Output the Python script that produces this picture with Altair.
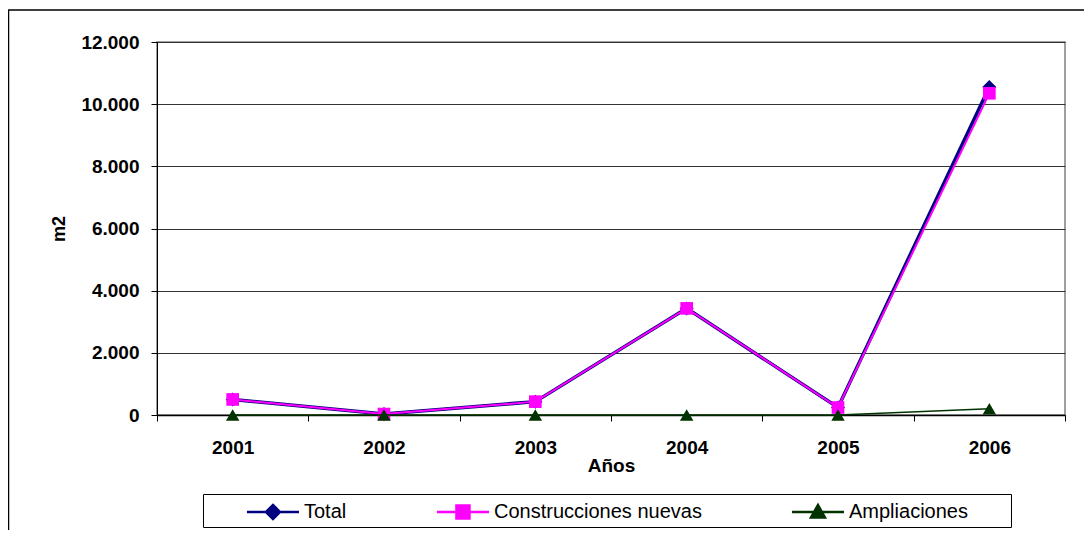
import altair as alt
import pandas as pd

# ---- data ----
anios = ["2001", "2002", "2003", "2004", "2005", "2006"]
total = [500, 30, 430, 3430, 240, 10550]
construcciones = [500, 30, 430, 3430, 240, 10350]
ampliaciones = [0, 0, 0, 0, 0, 200]
series = ["Total", "Construcciones nuevas", "Ampliaciones"]
colores = ["#000080", "#FF00FF", "#003300"]
marcadores = ["diamond", "square", "triangle-up"]
tamanos = [196, 160, 180]
grosores = [3.5, 2.0, 1.5]
y_ticks = [0, 2000, 4000, 6000, 8000, 10000, 12000]

valores = {"Total": total, "Construcciones nuevas": construcciones, "Ampliaciones": ampliaciones}
rows = []
for s in series:
    for a, v in zip(anios, valores[s]):
        rows.append({"anio": a, "valor": v, "serie": s})
df = pd.DataFrame(rows)

FONT = "Liberation Sans"

# legend symbols: line segment + marker (unit = sqrt(size)/2 px)
leg_paths = [
    "M0,0H7.43M3.71,-1L4.71,0L3.71,1L2.71,0Z",
    "M0,0H7.43M2.78,-0.93H4.64V0.93H2.78Z",
    "M0,0H7.43M3.71,-1L4.71,0.8L2.71,0.8Z",
]

x_enc = alt.X(
    "anio:O", sort=anios, title="Años",
    scale=alt.Scale(type="band", paddingInner=0, paddingOuter=0),
    bandPosition=0.5,
    axis=alt.Axis(
        labelAngle=0, labelFont=FONT, labelFontSize=19, labelFontWeight="bold",
        labelColor="black", labelPadding=17, tickBand="extent", tickSize=6,
        tickColor="black", domainColor="black", domainWidth=1.5, grid=False,
        titleFont=FONT, titleFontSize=19, titleFontWeight="bold", titleColor="black",
        titlePadding=-1,
    ),
)
y_enc = alt.Y(
    "valor:Q", title="m2",
    scale=alt.Scale(domain=[0, 12000], nice=False, zero=True),
    axis=alt.Axis(
        values=y_ticks, labelExpr="replace(format(datum.value, ','), ',', '.')",
        labelFont=FONT, labelFontSize=19, labelFontWeight="bold", labelColor="black",
        labelPadding=12, tickSize=6, tickColor="black", domainColor="black",
        grid=True, gridColor="#333333", gridWidth=1,
        titleFont=FONT, titleFontSize=18, titleFontWeight="bold", titleColor="black",
        titlePadding=12,
    ),
)

deco = pd.DataFrame({"k": [0]})
outer_border = alt.Chart(deco).mark_rect(fillOpacity=0, stroke="black", strokeWidth=1.5).encode(
    x=alt.value(-148.5), x2=alt.value(1200), y=alt.value(-32), y2=alt.value(600)
)
legend_box = alt.Chart(deco).mark_rect(fillOpacity=0, stroke="black", strokeWidth=1).encode(
    x=alt.value(46.5), x2=alt.value(854.5), y=alt.value(452.5), y2=alt.value(485.5)
)

layers = [outer_border, legend_box]
for s, c, m, sz, w in zip(series, colores, marcadores, tamanos, grosores):
    sub = alt.Chart(df).transform_filter(alt.datum.serie == s)
    layers.append(sub.mark_line(color=c, strokeWidth=w).encode(x=x_enc, y=y_enc))
    layers.append(sub.mark_point(shape=m, filled=True, color=c, size=sz, opacity=1).encode(x=x_enc, y=y_enc))

leg = alt.Legend(
    title=None, orient="none", legendX=80, legendY=460, direction="horizontal",
    columns=3, gridAlign="none", columnPadding=80, padding=0,
    labelFont=FONT, labelFontSize=20, labelColor="black", labelOffset=47, labelLimit=400,
    symbolSize=196, symbolStrokeWidth=2.5,
)
legend_layer = alt.Chart(df).transform_filter("false").mark_point(filled=True, opacity=1).encode(
    fill=alt.Fill("serie:N", scale=alt.Scale(domain=series, range=colores), legend=leg),
    stroke=alt.Stroke("serie:N", scale=alt.Scale(domain=series, range=colores), legend=leg),
    shape=alt.Shape("serie:N", scale=alt.Scale(domain=series, range=leg_paths), legend=leg),
)
layers.append(legend_layer)

chart = alt.layer(*layers).properties(
    width=908, height=373,
    autosize=alt.AutoSizeParams(type="none"),
    padding={"left": 149, "top": 34, "right": 19, "bottom": 115},
    background="white",
).configure_view(stroke="#808080", strokeWidth=1.5)

chart.save("out.html", embed_options={"renderer": "svg", "actions": False})
